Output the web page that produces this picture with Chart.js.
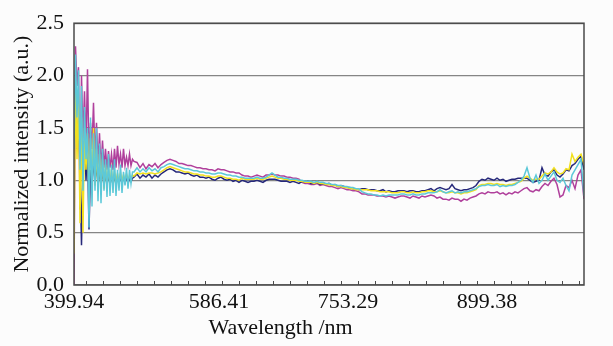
<!DOCTYPE html>
<html>
<head>
<meta charset="utf-8">
<script src="https://cdn.jsdelivr.net/npm/chart.js@4/dist/chart.umd.min.js"></script>
<style>
    html, body { margin: 0; padding: 0; background: #fcfcfc; }
    canvas { display: block; }
</style>
</head>
<body>
<canvas id="spectra" width="613" height="346"></canvas>
<script>
// 波長ラベル（サンプル番号上の位置）
const tickLabels = ['399.94', '586.41', '753.29', '899.38'];
const tickIndex = [0, 48.3, 91.3, 137.7];

// 正規化スペクトル（4試料）
// head: 短波長側のノイズ域（番号 0〜20 を 0.5 刻み）, tail: 番号 21〜170
const magentaHead = [
    0.00, 2.28, 1.90, 2.08, 0.72, 2.00, 1.40, 1.85, 1.30, 2.06,
    1.20, 1.55, 1.30, 1.74, 1.20, 1.55, 1.15, 1.45, 1.10, 1.38,
    1.12, 1.30, 1.10, 1.28, 1.12, 1.25, 1.10, 1.30, 1.12, 1.33,
    1.15, 1.25, 1.12, 1.30, 1.14, 1.22, 1.14, 1.25, 1.14, 1.20,
    1.18
];
const magentaTail = [
    1.17, 1.12, 1.16, 1.11, 1.15, 1.13, 1.16, 1.12, 1.15,
    1.17, 1.19, 1.20, 1.19, 1.18, 1.16, 1.16, 1.15, 1.14, 1.14,
    1.13, 1.12, 1.12, 1.11, 1.11, 1.10, 1.10, 1.09, 1.11, 1.10,
    1.10, 1.09, 1.08, 1.08, 1.07, 1.07, 1.05, 1.04, 1.04, 1.03,
    1.04, 1.05, 1.04, 1.03, 1.05, 1.05, 1.06, 1.05, 1.05, 1.04,
    1.04, 1.03, 1.03, 1.02, 1.02, 1.01, 0.98, 0.97, 0.97, 0.96,
    0.96, 0.97, 0.95, 0.96, 0.95, 0.94, 0.94, 0.93, 0.92, 0.93,
    0.92, 0.91, 0.91, 0.90, 0.90, 0.89, 0.87, 0.87, 0.86, 0.86,
    0.86, 0.85, 0.85, 0.85, 0.84, 0.85, 0.84, 0.83, 0.84, 0.85,
    0.85, 0.84, 0.83, 0.85, 0.84, 0.83, 0.85, 0.84, 0.85, 0.86,
    0.85, 0.83, 0.84, 0.82, 0.82, 0.81, 0.83, 0.82, 0.82, 0.80,
    0.82, 0.81, 0.83, 0.84, 0.85, 0.87, 0.88, 0.87, 0.89, 0.88,
    0.88, 0.89, 0.87, 0.88, 0.86, 0.88, 0.87, 0.89, 0.88, 0.90,
    0.92, 0.93, 0.90, 0.89, 0.91, 0.90, 0.94, 0.97, 0.95, 0.99,
    1.02, 0.96, 0.84, 0.86, 0.95, 0.93, 1.00, 0.92, 1.05, 1.10, 0.82
];
const navyHead = [
    1.40, 1.80, 1.30, 1.60, 1.10, 0.38, 1.20, 1.40, 1.00, 1.30,
    0.53, 1.10, 0.95, 1.20, 1.00, 1.15, 0.95, 1.10, 0.95, 1.08,
    0.98, 1.05, 0.96, 1.04, 0.98, 1.03, 0.96, 1.04, 0.99, 1.02,
    0.97, 1.03, 0.99, 1.02, 0.98, 1.03, 0.97, 1.02, 0.99, 1.02,
    1.03
];
const navyTail = [
    1.06, 1.02, 1.05, 1.03, 1.06, 1.02, 1.05, 1.03, 1.06,
    1.08, 1.10, 1.11, 1.10, 1.08, 1.08, 1.07, 1.06, 1.07, 1.05,
    1.04, 1.05, 1.03, 1.03, 1.02, 1.03, 1.01, 1.00, 1.02, 1.03,
    1.01, 1.00, 1.01, 0.99, 1.00, 0.98, 1.00, 0.99, 0.98, 0.99,
    0.99, 1.00, 0.99, 0.98, 1.00, 1.01, 1.01, 1.01, 1.00, 0.99,
    0.99, 0.99, 0.98, 0.99, 0.98, 0.97, 0.99, 0.98, 0.99, 0.97,
    0.97, 0.98, 0.96, 0.97, 0.96, 0.97, 0.95, 0.96, 0.94, 0.95,
    0.94, 0.93, 0.93, 0.92, 0.92, 0.91, 0.92, 0.92, 0.91, 0.91,
    0.91, 0.90, 0.90, 0.91, 0.89, 0.90, 0.89, 0.89, 0.90, 0.90,
    0.90, 0.89, 0.90, 0.90, 0.89, 0.89, 0.90, 0.90, 0.91, 0.92,
    0.90, 0.92, 0.93, 0.92, 0.91, 0.92, 0.96, 0.92, 0.91, 0.90,
    0.91, 0.91, 0.92, 0.93, 0.95, 0.99, 1.01, 1.00, 1.02, 1.01,
    1.00, 1.02, 1.00, 1.01, 0.99, 1.00, 1.01, 1.01, 1.02, 1.02,
    1.02, 1.02, 1.00, 0.98, 0.99, 1.00, 1.12, 1.05, 1.04, 1.08,
    1.10, 1.05, 1.03, 1.06, 1.10, 1.09, 1.14, 1.16, 1.20, 1.23, 1.10
];
const yellowHead = [
    0.30, 1.95, 1.20, 1.80, 0.59, 1.60, 0.50, 1.50, 1.10, 1.45,
    0.90, 1.40, 1.00, 1.50, 0.95, 1.30, 0.90, 1.25, 0.95, 1.20,
    0.92, 1.15, 0.95, 1.12, 0.97, 1.10, 0.95, 1.08, 1.00, 1.06,
    0.98, 1.07, 1.00, 1.05, 1.00, 1.06, 1.01, 1.04, 1.02, 1.05,
    1.04
];
const yellowTail = [
    1.07, 1.06, 1.07, 1.06, 1.07, 1.07, 1.06, 1.07, 1.08,
    1.10, 1.12, 1.13, 1.12, 1.11, 1.10, 1.09, 1.08, 1.08, 1.07,
    1.06, 1.06, 1.05, 1.05, 1.04, 1.04, 1.03, 1.03, 1.04, 1.04,
    1.03, 1.02, 1.02, 1.01, 1.01, 1.00, 1.02, 1.01, 1.01, 1.01,
    1.01, 1.02, 1.01, 1.01, 1.02, 1.03, 1.04, 1.03, 1.02, 1.02,
    1.01, 1.01, 1.00, 1.00, 1.00, 0.99, 0.99, 0.98, 0.98, 0.98,
    0.97, 0.98, 0.97, 0.97, 0.96, 0.96, 0.95, 0.95, 0.94, 0.94,
    0.93, 0.93, 0.92, 0.92, 0.91, 0.91, 0.91, 0.91, 0.91, 0.90,
    0.90, 0.90, 0.89, 0.89, 0.89, 0.89, 0.88, 0.88, 0.88, 0.89,
    0.89, 0.88, 0.88, 0.89, 0.88, 0.88, 0.89, 0.89, 0.90, 0.90,
    0.89, 0.89, 0.90, 0.89, 0.88, 0.88, 0.89, 0.88, 0.88, 0.87,
    0.88, 0.88, 0.89, 0.90, 0.91, 0.95, 0.96, 0.96, 0.97, 0.97,
    0.96, 0.97, 0.96, 0.96, 0.95, 0.96, 0.96, 0.97, 0.98, 0.99,
    1.02, 1.04, 1.02, 1.00, 1.01, 1.01, 1.04, 1.07, 1.06, 1.08,
    1.12, 1.08, 1.06, 1.07, 1.11, 1.10, 1.25, 1.18, 1.22, 1.25, 1.15
];
const cyanHead = [
    1.30, 2.20, 1.60, 2.05, 1.10, 1.90, 0.90, 1.70, 1.20, 1.50,
    0.55, 1.60, 0.75, 1.45, 0.90, 1.50, 0.80, 1.35, 0.78, 1.30,
    0.90, 1.20, 0.84, 1.25, 0.85, 1.15, 0.88, 1.20, 0.85, 1.10,
    0.90, 1.15, 0.88, 1.08, 0.95, 1.12, 0.92, 1.10, 0.97, 1.08,
    1.08
];
const cyanTail = [
    1.12, 1.08, 1.11, 1.08, 1.12, 1.09, 1.11, 1.08, 1.12,
    1.13, 1.15, 1.16, 1.15, 1.14, 1.13, 1.12, 1.11, 1.11, 1.10,
    1.09, 1.09, 1.08, 1.08, 1.07, 1.07, 1.06, 1.06, 1.07, 1.07,
    1.06, 1.05, 1.05, 1.04, 1.04, 1.03, 1.03, 1.02, 1.02, 1.02,
    1.02, 1.03, 1.02, 1.02, 1.03, 1.05, 1.07, 1.05, 1.03, 1.03,
    1.02, 1.02, 1.01, 1.01, 1.01, 1.00, 1.00, 0.99, 0.99, 0.99,
    0.98, 0.99, 0.98, 0.98, 0.97, 0.97, 0.96, 0.96, 0.95, 0.95,
    0.94, 0.94, 0.93, 0.93, 0.92, 0.92, 0.89, 0.88, 0.87, 0.87,
    0.86, 0.86, 0.85, 0.86, 0.85, 0.86, 0.86, 0.86, 0.86, 0.87,
    0.87, 0.86, 0.86, 0.87, 0.86, 0.86, 0.87, 0.87, 0.88, 0.88,
    0.88, 0.89, 0.91, 0.89, 0.88, 0.89, 0.90, 0.88, 0.89, 0.88,
    0.89, 0.89, 0.90, 0.91, 0.92, 0.94, 0.95, 0.95, 0.96, 0.95,
    0.95, 0.96, 0.94, 0.95, 0.94, 0.95, 0.95, 0.96, 0.98, 1.00,
    1.04, 1.12, 1.02, 0.98, 1.05, 0.97, 1.00, 1.06, 1.00, 1.04,
    1.08, 1.00, 0.98, 1.02, 0.95, 0.90, 1.05, 1.10, 1.15, 1.20, 0.85
];

const SERIF = "'Liberation Serif', 'DejaVu Serif', serif";
const TEXT_COLOR = '#111';
const FRAME_COLOR = '#4a4a4a';
const TAIL_START = 21;

/**
 * 枠線・内向き目盛り・横軸タイトルを描くプラグイン
 */
const framePlugin = {
    id: 'frame',
    afterDraw(chart) {
        const { ctx, chartArea } = chart;
        const xScale = chart.scales.x;
        const { left, right, top, bottom } = chartArea;

        ctx.save();
        // 内向きの小目盛り
        ctx.strokeStyle = FRAME_COLOR;
        ctx.lineWidth = 1;
        ctx.beginPath();
        for (let v = 4; v < xScale.max; v += 17 / 3) {
            const px = Math.round(xScale.getPixelForValue(v)) + 0.5;
            ctx.moveTo(px, bottom);
            ctx.lineTo(px, bottom - 4);
        }
        ctx.stroke();

        // 外枠
        ctx.lineWidth = 1.5;
        ctx.strokeRect(left, top, right - left, bottom - top);

        // 横軸タイトル（ラベル範囲の中央）
        const first = xScale.getPixelForValue(tickIndex[0]);
        const last = xScale.getPixelForValue(tickIndex[tickIndex.length - 1]);
        ctx.fillStyle = TEXT_COLOR;
        ctx.font = `22px ${SERIF}`;
        ctx.textAlign = 'center';
        ctx.textBaseline = 'middle';
        ctx.fillText('Wavelength /nm', (first + last) / 2, 328);
        ctx.restore();
    }
};

/**
 * head（0.5刻み）と tail（1刻み）をつないで点列にする
 */
function makeDataset(head, tail, color) {
    const points = head.map((y, k) => ({ x: k / 2, y: y }));
    tail.forEach((y, k) => points.push({ x: TAIL_START + k, y: y }));
    return {
        data: points,
        borderColor: color,
        borderWidth: 1.5,
        pointRadius: 0,
        tension: 0,
        fill: false
    };
}

// 先頭のデータセットが最前面に描かれる
new Chart(document.getElementById('spectra'), {
    type: 'line',
    data: {
        datasets: [
            makeDataset(cyanHead, cyanTail, '#5cc8d8'),
            makeDataset(yellowHead, yellowTail, '#f2e01e'),
            makeDataset(navyHead, navyTail, '#26287a'),
            makeDataset(magentaHead, magentaTail, '#b0409c')
        ]
    },
    options: {
        responsive: false,
        animation: false,
        layout: {
            padding: { left: 0, right: 29, top: 5, bottom: 0 }
        },
        plugins: {
            legend: { display: false },
            tooltip: { enabled: false }
        },
        scales: {
            x: {
                type: 'linear',
                min: 0,
                max: TAIL_START + cyanTail.length - 1,
                afterBuildTicks: function(scale) {
                    scale.ticks = tickIndex.map(v => ({ value: v }));
                },
                afterFit: function(scale) {
                    scale.height = 61;
                },
                ticks: {
                    autoSkip: false,
                    maxRotation: 0,
                    padding: -4,
                    color: TEXT_COLOR,
                    font: { family: SERIF, size: 22 },
                    callback: function(value) {
                        return tickLabels[tickIndex.indexOf(value)];
                    }
                },
                grid: { display: false },
                border: { display: false }
            },
            y: {
                min: 0,
                max: 2.5,
                afterFit: function(scale) {
                    scale.width = 74;
                },
                ticks: {
                    stepSize: 0.5,
                    padding: 10,
                    color: TEXT_COLOR,
                    font: { family: SERIF, size: 22 },
                    callback: function(value) {
                        return value.toFixed(1);
                    }
                },
                grid: {
                    color: '#858585',
                    lineWidth: 1.3,
                    drawTicks: false
                },
                border: { display: false },
                title: {
                    display: true,
                    text: 'Normalized intensity (a.u.)',
                    color: TEXT_COLOR,
                    font: { family: SERIF, size: 22 },
                    padding: { top: 9, bottom: 0 }
                }
            }
        }
    },
    plugins: [framePlugin]
});
</script>
</body>
</html>
